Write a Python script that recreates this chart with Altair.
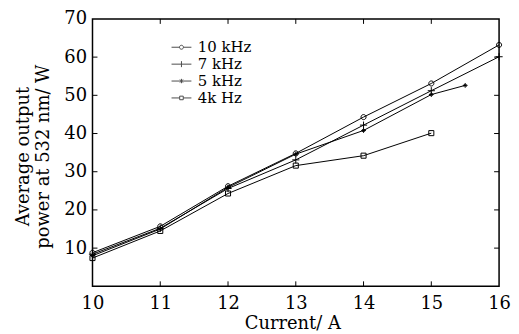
import altair as alt
import pandas as pd

series_names = ["10 kHz", "7 kHz", "5 kHz", "4k Hz"]

current_10k = [10, 11, 12, 13, 14, 15, 16]
power_10k = [8.8, 15.7, 26.2, 34.8, 44.3, 53.1, 63.2]

current_7k = [10, 11, 12, 13, 14, 15, 16]
power_7k = [8.4, 15.2, 25.6, 33.1, 42.2, 51.2, 60.1]

current_5k = [10, 11, 12, 13, 14, 15, 15.5]
power_5k = [8.0, 15.0, 25.9, 34.6, 40.8, 50.2, 52.6]

current_4k = [10, 11, 12, 13, 14, 15]
power_4k = [7.4, 14.5, 24.3, 31.6, 34.2, 40.1]

x_ticks = [10, 11, 12, 13, 14, 15, 16]
y_ticks = [10, 20, 30, 40, 50, 60, 70]
x_inner_ticks = [11, 12, 13, 14, 15]
y_inner_ticks = [10, 20, 30, 40, 50, 60]

rows = []
for name, xs, ys in [
    ("10 kHz", current_10k, power_10k),
    ("7 kHz", current_7k, power_7k),
    ("5 kHz", current_5k, power_5k),
    ("4k Hz", current_4k, power_4k),
]:
    for i, (cx, py) in enumerate(zip(xs, ys)):
        rows.append({"series": name, "current": cx, "power": py, "order": i})
df = pd.DataFrame(rows)

W, H = 409, 269
FONT = "DejaVu Serif"

marker_paths = [
    "M-0.85,0A0.85,0.85 0 1,0 0.85,0A0.85,0.85 0 1,0 -0.85,0Z",
    "M-1.2,0L1.2,0M0,-1.2L0,1.2",
    "M-0.8,0L0.8,0M0,-0.8L0,0.8M-0.45,-0.45L0.45,0.45M-0.45,0.45L0.45,-0.45",
    "M-0.85,-0.85L0.85,-0.85L0.85,0.85L-0.85,0.85Z",
]
legend_paths = [
    "M-1,0L-0.2,0M0.2,0L1,0M-0.2,0A0.2,0.2 0 1,0 0.2,0A0.2,0.2 0 1,0 -0.2,0Z",
    "M-1,0L1,0M0,-0.3L0,0.3",
    "M-1,0L1,0M0,-0.22L0,0.22M-0.15,-0.15L0.15,0.15M-0.15,0.15L0.15,-0.15",
    "M-1,0L-0.18,0M0.18,0L1,0M-0.18,-0.18L0.18,-0.18L0.18,0.18L-0.18,0.18Z",
]

xscale = alt.Scale(domain=[10, 16], nice=False, zero=False)
yscale = alt.Scale(domain=[0, 70], nice=False)

xaxis = alt.Axis(
    values=x_ticks, format="d", title="Current/ A",
    titleX=201, titleY=42, titleBaseline="alphabetic",
    labelBaseline="alphabetic", labelPadding=22,
    labelFlush=False, labelOverlap=False,
    labelFont=FONT, titleFont=FONT,
)
yaxis = alt.Axis(
    values=y_ticks, format="d",
    title=["Average output", "power at 532 nm/ W"],
    titleX=-64, titleY=138, titleBaseline="alphabetic", titleAlign="center",
    titleAngle=270, titleLineHeight=20,
    labelPadding=6, labelFlush=False, labelOverlap=False,
    labelFont=FONT, titleFont=FONT,
)

lines = alt.Chart(df).mark_line(color="black", strokeWidth=1).encode(
    x=alt.X("current:Q", scale=xscale, axis=xaxis),
    y=alt.Y("power:Q", scale=yscale, axis=yaxis),
    detail="series:N",
    order="order:Q",
)

points = alt.Chart(df).mark_point(filled=False, color="black", strokeWidth=1, size=36, opacity=1).encode(
    x=alt.X("current:Q", scale=xscale),
    y=alt.Y("power:Q", scale=yscale),
    shape=alt.Shape("series:N", scale=alt.Scale(domain=series_names, range=marker_paths), legend=None),
)

legend_layer = alt.Chart(df).transform_filter("false").mark_point(
    filled=False, color="black", strokeWidth=1
).encode(
    x=alt.X("current:Q", scale=xscale),
    y=alt.Y("power:Q", scale=yscale),
    shape=alt.Shape(
        "series:N",
        scale=alt.Scale(domain=series_names, range=legend_paths),
        legend=alt.Legend(
            title=None, orient="none", legendX=79, legendY=20,
            symbolSize=400, symbolStrokeWidth=1, symbolStrokeColor="black",
            labelFont=FONT, labelFontSize=15, labelColor="black",
            labelOffset=6, clipHeight=17, rowPadding=0, padding=0,
        ),
    ),
)

tick_len = 5
xt = pd.DataFrame({"t": x_inner_ticks})
yt = pd.DataFrame({"t": y_inner_ticks})

bottom_ticks = alt.Chart(xt).mark_rule(color="black", strokeWidth=1).encode(
    x=alt.X("t:Q", scale=xscale), y=alt.value(H), y2=alt.value(H - tick_len)
)
top_ticks = alt.Chart(xt).mark_rule(color="black", strokeWidth=1).encode(
    x=alt.X("t:Q", scale=xscale), y=alt.value(0), y2=alt.value(tick_len)
)
left_ticks = alt.Chart(yt).mark_rule(color="black", strokeWidth=1).encode(
    y=alt.Y("t:Q", scale=yscale), x=alt.value(0), x2=alt.value(tick_len)
)
right_ticks = alt.Chart(yt).mark_rule(color="black", strokeWidth=1).encode(
    y=alt.Y("t:Q", scale=yscale), x=alt.value(W), x2=alt.value(W - tick_len)
)

chart = alt.layer(
    bottom_ticks, top_ticks, left_ticks, right_ticks, lines, points, legend_layer
).resolve_scale(shape="independent").properties(
    width=W, height=H,
    autosize=alt.AutoSizeParams(type="none"),
    padding={"left": 85, "top": 10, "right": 12, "bottom": 50},
    background="white",
).configure(
    font=FONT
).configure_view(
    stroke="black", strokeWidth=1.5
).configure_axis(
    grid=False, domain=False, ticks=False, tickSize=0,
    labelFont=FONT, labelFontSize=18, labelColor="black",
    titleFont=FONT, titleFontSize=18, titleColor="black", titleFontWeight="normal",
)

chart.save("out.html", embed_options={"renderer": "svg", "actions": False})
